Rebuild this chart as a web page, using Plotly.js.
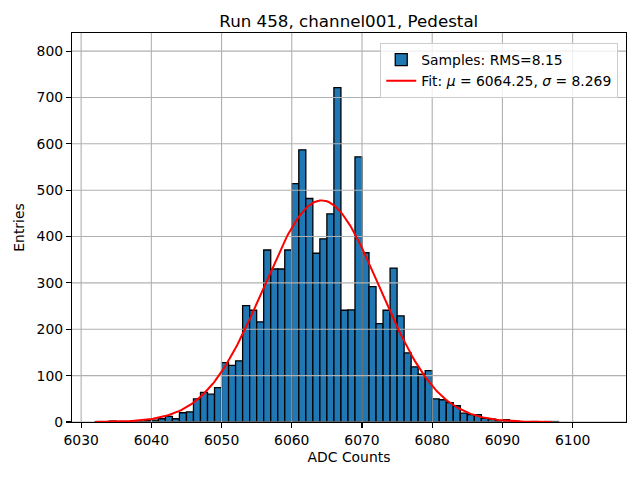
<!DOCTYPE html>
<html>
<head>
<meta charset="utf-8">
<script src="https://cdn.plot.ly/plotly-3.0.1.min.js"></script>
<style>html,body{margin:0;padding:0;background:#fff;} #chart{width:640px;height:480px;}</style>
</head>
<body>
<div id="chart"></div>
<script>
// Histogram bins (left edges, width 1 ADC count) and counts
const binLefts = [6032,6033,6034,6035,6036,6037,6038,6039,6040,6041,6042,6043,6044,6045,6046,6047,6048,6049,
  6050,6051,6052,6053,6054,6055,6056,6057,6058,6059,6060,6061,6062,6063,6064,6065,6066,6067,6068,6069,
  6070,6071,6072,6073,6074,6075,6076,6077,6078,6079,6080,6081,6082,6083,6084,6085,6086,6087,6088,6089,
  6090,6091,6092,6093,6094,6095,6096,6097];
const counts = [1,0,2,1,0,1,1,3,4,7,12,7,20,22,50,64,60,74,
  128,122,132,251,241,216,371,330,330,371,514,587,482,364,395,449,721,241,242,572,
  365,292,212,241,332,229,149,119,103,111,50,48,42,35,19,16,16,8,6,3,
  5,2,1,0,1,0,1,1];
const binWidth = 1;

// Gaussian fit parameters
const fitMu = 6064.25;
const fitSigma = 8.269;
const fitAmp = 478;
const fitXMin = 6032;
const fitXMax = 6097;

const xTicks = [6030,6040,6050,6060,6070,6080,6090,6100];
const yTicks = [0,100,200,300,400,500,600,700,800];
const xRange = [6028.7, 6107.6];
const yRange = [0, 839];

const titleText = 'Run 458, channel001, Pedestal';
const histName = 'Samples: RMS=8.15';
const fitName = 'Fit: <i>μ</i> = 6064.25, <i>σ</i> = 8.269';

const centers = binLefts.map(v => v + binWidth / 2);

const fitX = [];
for (let i = 0; i <= 260; i++) fitX.push(fitXMin + (fitXMax - fitXMin) * i / 260);
const fitY = fitX.map(x => fitAmp * Math.exp(-Math.pow(x - fitMu, 2) / (2 * fitSigma * fitSigma)));

// grid drawn above bars, below the fit line (matplotlib layering)
const gx = [], gy = [];
xTicks.forEach(t => { gx.push(t, t, null); gy.push(yRange[0], yRange[1], null); });
yTicks.forEach(t => { gx.push(xRange[0], xRange[1], null); gy.push(t, t, null); });

const font = 'DejaVu Sans, sans-serif';
const fs = 13.9;

const traces = [
  {type:'bar', x: centers, y: counts, width: binWidth, name: histName,
   marker:{color:'#1f77b4', line:{color:'#000000', width:1.3}}, hoverinfo:'x+y'},
  {type:'scatter', mode:'lines', x: gx, y: gy, showlegend:false, hoverinfo:'skip',
   line:{color:'#b0b0b0', width:1.1}},
  {type:'scatter', mode:'lines', x: fitX, y: fitY, name: fitName,
   line:{color:'#ff0000', width:2}}
];

const axisCommon = {
  showline:true, linecolor:'#000', linewidth:1.1, mirror:true,
  ticks:'outside', ticklen:5, tickwidth:1.1, tickcolor:'#000',
  showgrid:false, zeroline:false,
  tickfont:{family:font, size:fs, color:'#000'}
};

const layout = {
  width:640, height:480,
  paper_bgcolor:'#fff', plot_bgcolor:'#fff',
  margin:{l:72, r:14, t:33, b:58},
  font:{family:font, color:'#000'},
  title:{text:titleText, font:{family:font, size:16.7, color:'#000'},
         x:0.545, xanchor:'center', y:0.955, yanchor:'middle'},
  bargap:0,
  xaxis:Object.assign({}, axisCommon, {
    range:xRange, tickvals:xTicks, ticktext:xTicks.map(String),
    title:{text:'ADC Counts', font:{family:font, size:fs, color:'#000'}, standoff:5}
  }),
  yaxis:Object.assign({}, axisCommon, {
    range:yRange, tickvals:yTicks, ticktext:yTicks.map(String),
    title:{text:'Entries', font:{family:font, size:fs, color:'#000'}, standoff:8}
  }),
  legend:{x:0.986, xanchor:'right', y:0.974, yanchor:'top',
    bgcolor:'rgba(255,255,255,0.8)', bordercolor:'#cccccc', borderwidth:1,
    font:{family:font, size:fs, color:'#000'}, tracegroupgap:0},
  showlegend:true
};

Plotly.newPlot('chart', traces, layout, {displayModeBar:false, staticPlot:true});
</script>
</body>
</html>
